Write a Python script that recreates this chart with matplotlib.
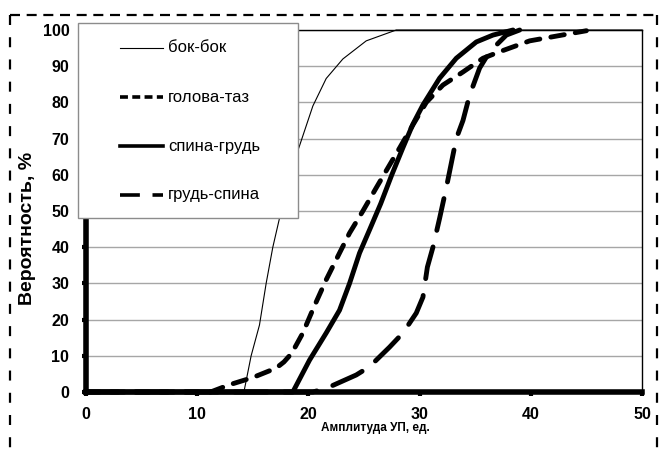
import numpy as np
import matplotlib
matplotlib.use('Agg')
import matplotlib.pyplot as plt
from matplotlib.lines import Line2D
from matplotlib.patches import Rectangle

plt.rcParams['font.family'] = ['Liberation Sans', 'DejaVu Sans']

# данные
labels = ['бок-бок', 'голова-таз', 'спина-грудь', 'грудь-спина']

x_bok = [0, 14.2, 14.85, 15.6, 16.2, 16.8, 17.4, 18.3, 19.2, 20.4, 21.6, 23.1, 25.2, 27.9, 50]
y_bok = [0, 0, 10, 18.5, 30, 40, 48, 60, 68, 79, 86.6, 92, 97, 100, 100]

x_gol = [0, 11.2, 12.9, 15.0, 17.1, 17.8, 18.5, 19.5, 20.5, 21.6, 22.8, 23.7, 24.9, 26.1,
         27.3, 28.2, 29.4, 30.6, 32.1, 33.9, 35.7, 37.2, 39.9, 45.0]
y_gol = [0, 0, 2, 4, 6.6, 8.3, 10.7, 16.3, 23.5, 31, 38.4, 43.9, 50, 56.4,
         62.7, 67.4, 73.8, 80, 84.8, 88.4, 92.2, 94, 97, 99.8]

x_sg = [0, 18.6, 20.1, 21.6, 22.8, 23.7, 24.6, 25.5, 26.5, 27.5, 28.5, 29.4, 30.3, 31.8, 33.3, 35.1, 36.6, 38.4]
y_sg = [0, 0, 8.8, 16.3, 22.6, 30, 38.4, 44.8, 52, 60, 67.5, 74, 79.3, 86.7, 92.2, 96.7, 98.6, 100]

x_gs = [0, 20.4, 21.6, 24.3, 25.5, 27.3, 28.5, 29.7, 30.3, 30.7, 31.2, 31.8, 32.4, 33.3,
        33.9, 34.5, 35.4, 36.3, 37.8, 39.0]
y_gs = [0, 0, 1, 4.7, 7, 12.4, 16.3, 21.8, 26.2, 34.5, 40, 48, 56.4, 70,
        75, 82, 89.5, 94, 98.6, 100]

W, H = 662, 455
fig = plt.figure(figsize=(W / 100, H / 100), dpi=100)
ax = fig.add_axes([86 / W, 1 - 392 / H, (642 - 86) / W, (392 - 30) / H])

ax.set_xlim(0, 50)
ax.set_ylim(0, 100)
ax.set_xticks(np.arange(0, 51, 10))
ax.set_yticks(np.arange(0, 101, 10))
ax.grid(axis='y', color='#a6a6a6', lw=1.0)
ax.set_axisbelow(True)

lw = 3.5
styles = [
    dict(lw=0.8, ls='-'),
    dict(lw=lw, ls=(0, (2.8, 2.3)), dash_capstyle='round'),
    dict(lw=lw, ls='-', solid_capstyle='round'),
    dict(lw=lw, ls=(0, (6.7, 3.5)), dash_capstyle='round'),
]
series = [(x_bok, y_bok), (x_gol, y_gol), (x_sg, y_sg), (x_gs, y_gs)]
for (xs, ys), st in zip(series, styles):
    ax.plot(xs, ys, color='k', clip_on=False, zorder=3, **st)

for s in ['left', 'bottom']:
    ax.spines[s].set_linewidth(4.0)
    ax.spines[s].set_color('k')
for s in ['top', 'right']:
    ax.spines[s].set_linewidth(1.0)
    ax.spines[s].set_color('k')

ax.tick_params(axis='both', direction='out', length=3, width=3, color='k',
               labelsize=11.5)
ax.tick_params(axis='y', pad=9)
ax.tick_params(axis='x', pad=8)
for t in ax.get_xticklabels() + ax.get_yticklabels():
    t.set_fontweight('bold')

ax.set_ylabel('Вероятность, %', fontsize=14, fontweight='bold', va='center')
ax.yaxis.set_label_coords((28 - 86) / 556, (392 - 228) / 362)
ax.set_xlabel('Амплитуда УП, ед.', fontsize=8.5, fontweight='bold', va='center')
ax.xaxis.set_label_coords((375 - 86) / 556, (392 - 428) / 362)

# легенда
fig.patches.append(Rectangle((78 / W, 1 - 218 / H), 220 / W, 195 / H,
                             transform=fig.transFigure, facecolor='white',
                             edgecolor='#8c8c8c', lw=1.0, zorder=5))
leg_styles = [
    dict(lw=0.8, ls='-'),
    dict(lw=2.6, ls=(0, (2.2, 1.2))),
    dict(lw=2.6, ls='-'),
    dict(lw=2.6, ls=(0, (5.5, 3.5))),
]
for i, (lab, st) in enumerate(zip(labels, leg_styles)):
    yc = 1 - (48 + 49 * i) / H
    fig.lines.append(Line2D([120 / W, 163 / W], [yc, yc], transform=fig.transFigure,
                            color='k', zorder=6, **st))
    fig.text(168 / W, yc, lab, fontsize=12, va='center', ha='left', zorder=6)

# пунктирная рамка
bx0, bx1, by1 = 10 / W, 657 / W, 1 - 15 / H
fig.lines.append(Line2D([bx0, bx1], [by1, by1], transform=fig.transFigure,
                        color='k', lw=1.6, ls=(0, (4.5, 3.0))))
for bx in (bx0, bx1):
    fig.lines.append(Line2D([bx, bx], [by1, -0.02], transform=fig.transFigure,
                            color='k', lw=1.6, ls=(0, (4.5, 5.5))))

fig.savefig('out.png', dpi=100)
